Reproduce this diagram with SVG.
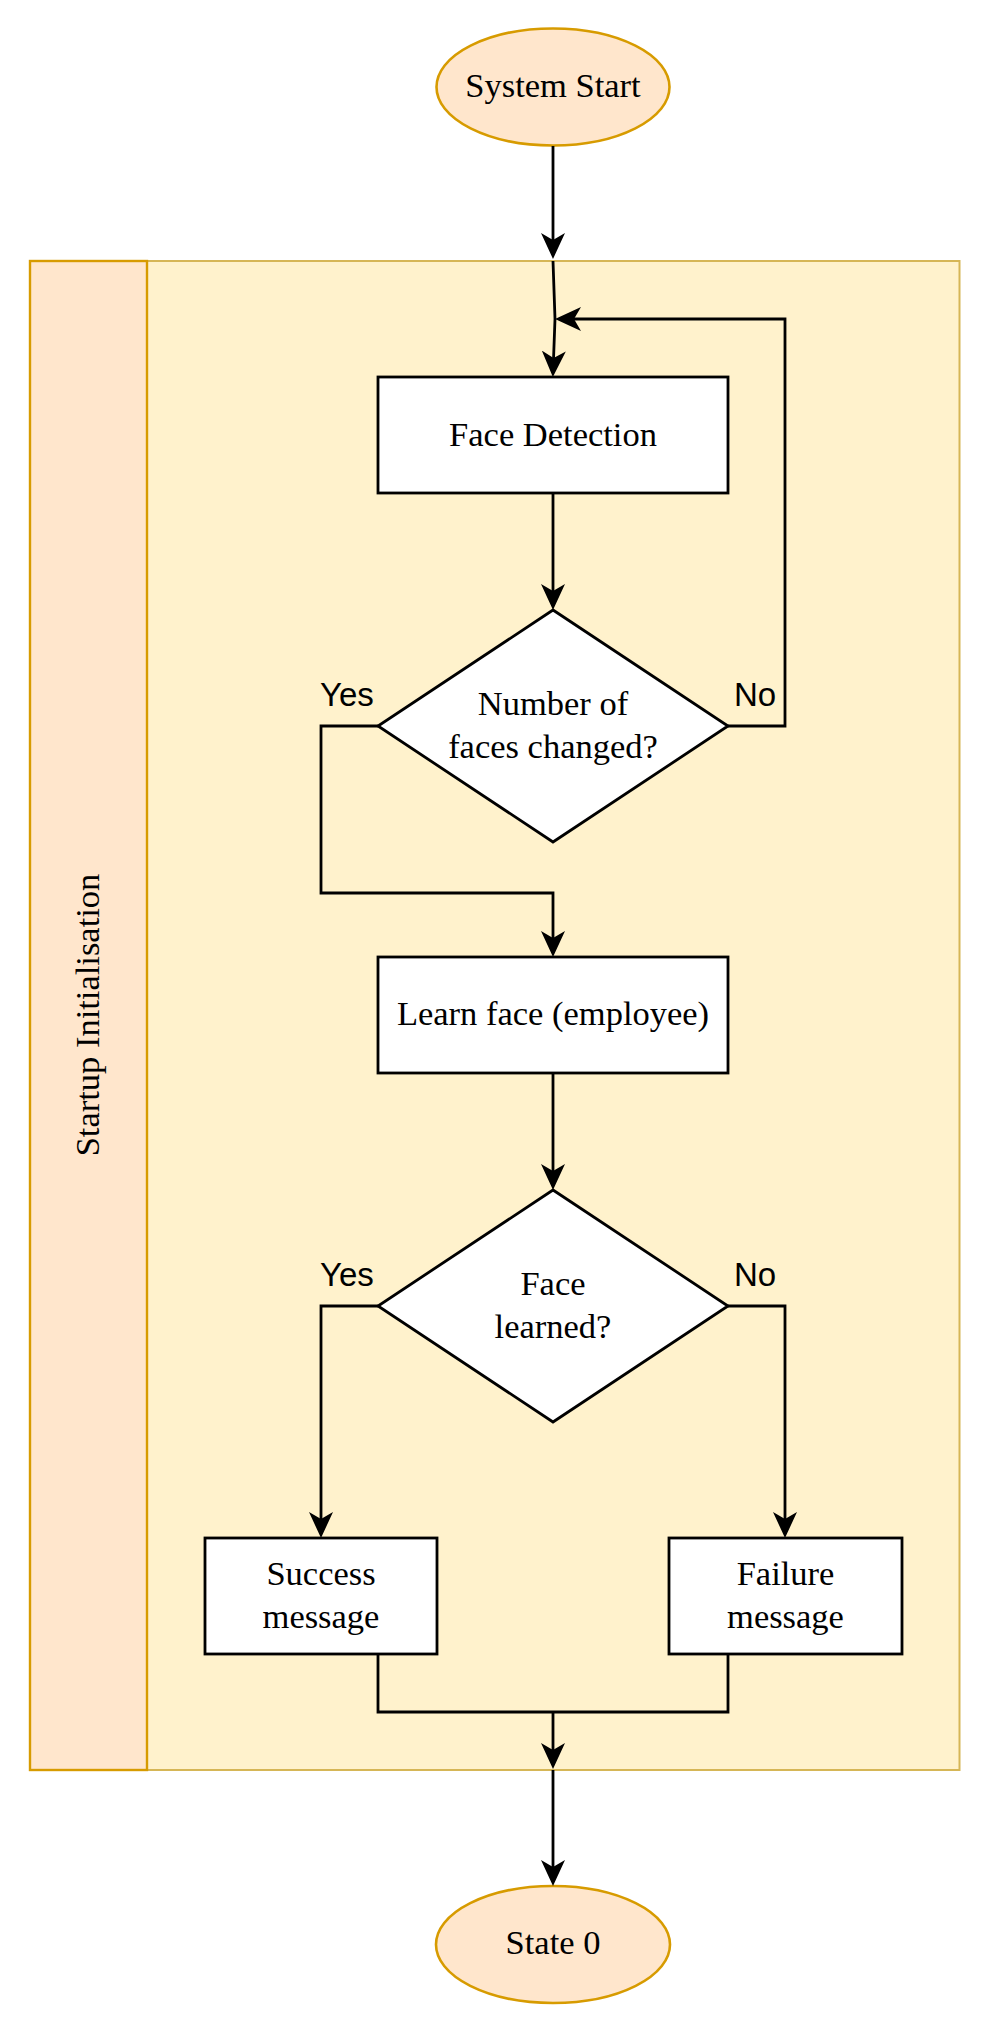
<svg xmlns="http://www.w3.org/2000/svg" width="994" height="2033" viewBox="0 0 994 2033">
<style>
.serif{font-family:"Liberation Serif","Times New Roman",serif;font-size:34.5px;fill:#000;text-anchor:middle}
.sans{font-family:"Liberation Sans",Arial,sans-serif;font-size:33px;fill:#000}
.box{fill:#fff;stroke:#000;stroke-width:2.8}
.term{fill:#ffe6cc;stroke:#d79b00;stroke-width:2.6}
.edge{fill:none;stroke:#000;stroke-width:2.8}
</style>
<defs>
<marker id="arr" markerUnits="userSpaceOnUse" viewBox="0 0 26 24" markerWidth="26" markerHeight="24" refX="22" refY="12" orient="auto">
<path d="M26,12 L0,0 L7,12 L0,24 Z" fill="#000"/>
</marker>
</defs>
<rect width="994" height="2033" fill="#fff"/>
<g id="container">
<rect x="30" y="261" width="929.5" height="1509" fill="#fff2cc" stroke="#d6b656" stroke-width="2"/>
<rect x="30" y="261" width="117" height="1509" fill="#ffe6cc" stroke="#d79b00" stroke-width="2.4"/>
<text class="serif" transform="translate(99,1015) rotate(-90)">Startup Initialisation</text>
</g>
<g id="start">
<ellipse class="term" cx="553" cy="87" rx="116.5" ry="58.5"/>
<text class="serif" x="553" y="97">System Start</text>
</g>
<g id="face-detection">
<rect class="box" x="378" y="377" width="350" height="116"/>
<text class="serif" x="553" y="446">Face Detection</text>
</g>
<g id="decision-faces">
<polygon class="box" points="553,610 728,726 553,842 378,726"/>
<text class="serif" x="553" y="715">Number of</text>
<text class="serif" x="553" y="758">faces changed?</text>
</g>
<g id="learn-face">
<rect class="box" x="378" y="957" width="350" height="116"/>
<text class="serif" x="553" y="1025">Learn face (employee)</text>
</g>
<g id="decision-learned">
<polygon class="box" points="553,1190 728,1306 553,1422 378,1306"/>
<text class="serif" x="553" y="1295">Face</text>
<text class="serif" x="553" y="1338">learned?</text>
</g>
<g id="success">
<rect class="box" x="205" y="1538" width="232" height="116"/>
<text class="serif" x="321" y="1585">Success</text>
<text class="serif" x="321" y="1628">message</text>
</g>
<g id="failure">
<rect class="box" x="669" y="1538" width="233" height="116"/>
<text class="serif" x="785.5" y="1585">Failure</text>
<text class="serif" x="785.5" y="1628">message</text>
</g>
<g id="end">
<ellipse class="term" cx="553" cy="1944.5" rx="117" ry="58.5"/>
<text class="serif" x="553" y="1954">State 0</text>
</g>
<g id="connectors">
<path class="edge" d="M553,146 L553,255" marker-end="url(#arr)"/>
<path class="edge" d="M553,261 L555,319 L553,373" marker-end="url(#arr)"/>
<path class="edge" d="M553,493 L553,606" marker-end="url(#arr)"/>
<path class="edge" d="M728,726 L785,726 L785,319 L559,319" marker-end="url(#arr)"/>
<path class="edge" d="M378,726 L321,726 L321,893 L553,893 L553,953" marker-end="url(#arr)"/>
<path class="edge" d="M553,1073 L553,1186" marker-end="url(#arr)"/>
<path class="edge" d="M378,1306 L321,1306 L321,1534" marker-end="url(#arr)"/>
<path class="edge" d="M728,1306 L785,1306 L785,1534" marker-end="url(#arr)"/>
<path class="edge" d="M378,1654 L378,1712 L728,1712 L728,1654"/>
<path class="edge" d="M553,1712 L553,1765" marker-end="url(#arr)"/>
<path class="edge" d="M553,1770 L553,1882" marker-end="url(#arr)"/>
<text class="sans" x="320" y="706">Yes</text>
<text class="sans" x="734" y="706">No</text>
<text class="sans" x="320" y="1286">Yes</text>
<text class="sans" x="734" y="1286">No</text>
</g>
</svg>
